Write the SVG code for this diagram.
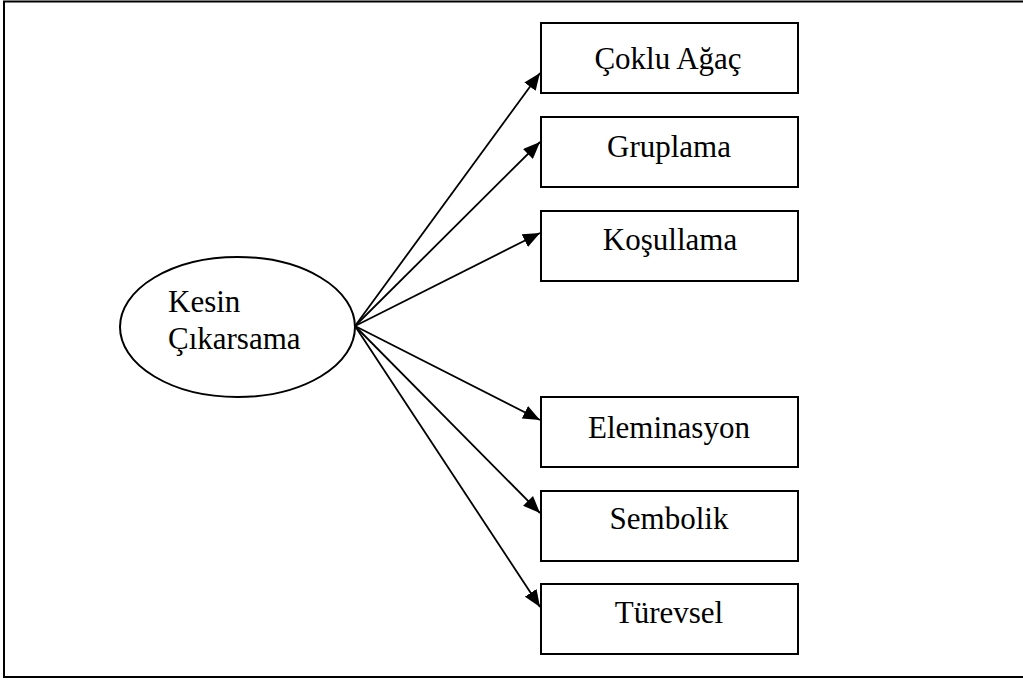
<svg xmlns="http://www.w3.org/2000/svg" width="1023" height="681" viewBox="0 0 1023 681">
  <style>
    .frame { fill: none; stroke: #000; stroke-width: 2; }
    .box { fill: #fff; stroke: #000; stroke-width: 2; }
    .oval { fill: #fff; stroke: #000; stroke-width: 2; }
    .label { font-family: "Liberation Serif", "Times New Roman", serif; font-size: 31px; fill: #000; }
    .mid { text-anchor: middle; }
    .edge { stroke: #000; stroke-width: 1.8; fill: none; marker-end: url(#arrow); }
  </style>
  <defs>
    <marker id="arrow" markerUnits="userSpaceOnUse" markerWidth="18" markerHeight="14" refX="17" refY="7" orient="auto">
      <path d="M0,0 L17,7 L0,14 z" fill="#000"/>
    </marker>
  </defs>

  <!-- page frame (open on the right) -->
  <polyline class="frame" points="1024,1.5 4,1.5 4,677 1024,677"/>

  <!-- connectors -->
  <g id="connectors">
    <line class="edge" x1="355" y1="326" x2="540" y2="73"/>
    <line class="edge" x1="355" y1="326" x2="540" y2="142"/>
    <line class="edge" x1="355" y1="326" x2="540" y2="233"/>
    <line class="edge" x1="355" y1="326" x2="540" y2="420"/>
    <line class="edge" x1="355" y1="326" x2="540" y2="513"/>
    <line class="edge" x1="355" y1="326" x2="540" y2="607"/>
  </g>

  <!-- source node -->
  <g id="kesin-cikarsama">
    <ellipse class="oval" cx="237.5" cy="327" rx="117.5" ry="70"/>
    <text class="label" x="168" y="312">Kesin</text>
    <text class="label" x="168" y="349">Çıkarsama</text>
  </g>

  <!-- target nodes -->
  <g id="coklu-agac">
    <rect class="box" x="541" y="23" width="257" height="70"/>
    <text class="label mid" x="668" y="69">Çoklu Ağaç</text>
  </g>
  <g id="gruplama">
    <rect class="box" x="541" y="117" width="257" height="70"/>
    <text class="label mid" x="669" y="157">Gruplama</text>
  </g>
  <g id="kosullama">
    <rect class="box" x="541" y="211" width="257" height="70"/>
    <text class="label mid" x="670" y="250">Koşullama</text>
  </g>
  <g id="eleminasyon">
    <rect class="box" x="541" y="397" width="257" height="70"/>
    <text class="label mid" x="669" y="438">Eleminasyon</text>
  </g>
  <g id="sembolik">
    <rect class="box" x="541" y="491" width="257" height="70"/>
    <text class="label mid" x="669" y="529">Sembolik</text>
  </g>
  <g id="turevsel">
    <rect class="box" x="541" y="584" width="257" height="70"/>
    <text class="label mid" x="669" y="623">Türevsel</text>
  </g>
</svg>
